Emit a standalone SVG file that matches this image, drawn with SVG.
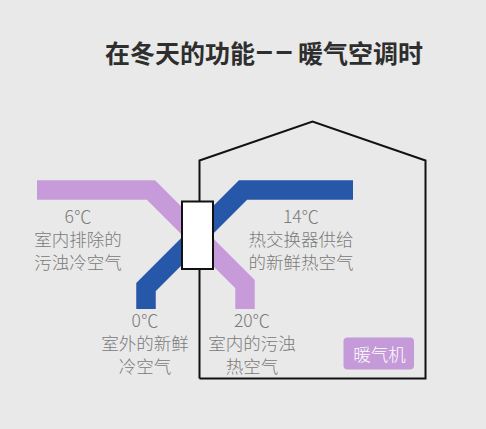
<svg xmlns="http://www.w3.org/2000/svg" width="486" height="429" viewBox="0 0 486 429">
<style>
.lbl{font-family:"Noto Sans CJK SC","Noto Sans",sans-serif;font-size:17.5px;font-weight:300;fill:#7a7a7a;text-anchor:middle}
.band{fill:none;stroke-width:19.5;stroke-linejoin:miter;stroke-linecap:butt}
.title{font-family:"Noto Sans CJK SC","Noto Sans",sans-serif;font-size:25px;font-weight:bold;fill:#2e2e2e}
</style>
<rect width="486" height="429" fill="#e9e9e9"/>
<text class="title" x="105" y="63">在冬天的功能</text>
<text x="256" y="61" style="font-family:'Liberation Sans',sans-serif;font-size:30px;font-weight:bold;fill:#2e2e2e;letter-spacing:3px">––</text>
<text class="title" x="298" y="63">暖气空调时</text>
<g id="house">
<polyline points="199.5,378.5 199.5,160.5 312.5,121.5 425.5,160.5 425.5,378.5 199.5,378.5" fill="none" stroke="#111" stroke-width="2"/>
</g>
<g id="connectors">
<polyline class="band" stroke="#c79ad9" points="37,190 151,190 245,284 245,309"/>
<polyline class="band" stroke="#2757a9" points="146,309 146,287 243,190 353,190"/>
</g>
<g id="exchanger">
<rect x="182" y="201.5" width="31" height="67.5" fill="#fff" stroke="#111" stroke-width="2"/>
</g>
<g id="label-exhaust">
<text class="lbl" x="78" y="223.3">6℃</text>
<text class="lbl" x="78" y="246">室内排除的</text>
<text class="lbl" x="78" y="268.7">污浊冷空气</text>
</g>
<g id="label-supply">
<text class="lbl" x="301" y="223.3">14℃</text>
<text class="lbl" x="301" y="246">热交换器供给</text>
<text class="lbl" x="301" y="268.7">的新鲜热空气</text>
</g>
<g id="label-outdoor">
<text class="lbl" x="145" y="327.3">0℃</text>
<text class="lbl" x="145" y="350">室外的新鲜</text>
<text class="lbl" x="145" y="372.7">冷空气</text>
</g>
<g id="label-indoor">
<text class="lbl" x="252" y="327.3">20℃</text>
<text class="lbl" x="252" y="350">室内的污浊</text>
<text class="lbl" x="252" y="372.7">热空气</text>
</g>
<g id="heater">
<rect x="343.5" y="337.5" width="70.5" height="32" rx="4" fill="#c49ad8"/>
<text class="lbl" x="379.5" y="360.5" style="fill:#fff">暖气机</text>
</g>
</svg>
